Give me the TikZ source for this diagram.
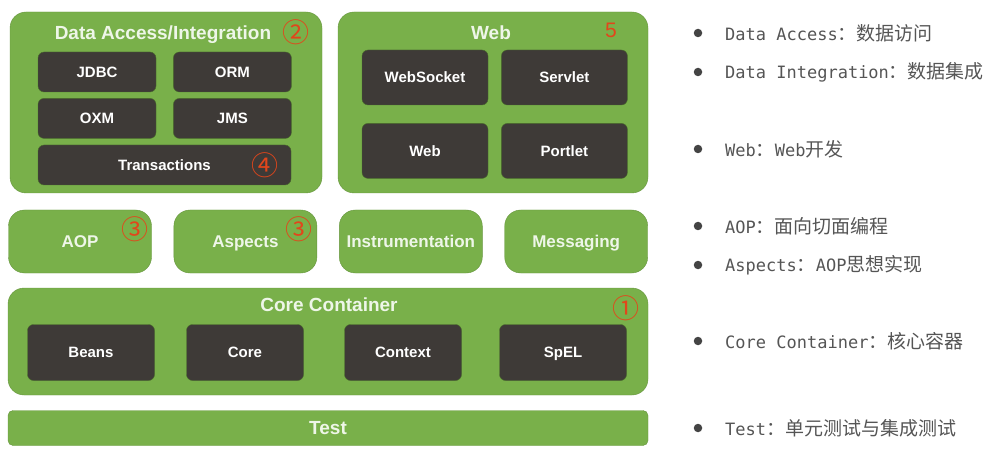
\documentclass[tikz,border=0pt]{standalone}
\usepackage{fontspec}
\setmainfont{Liberation Sans}
\newfontfamily\cjk{Noto Sans CJK SC}
\newfontfamily\mono{DejaVu Sans Mono}
\usetikzlibrary{positioning,shapes}
\definecolor{springgreen}{HTML}{79B04A}
\definecolor{moduledark}{HTML}{3E3A37}
\definecolor{titlewhite}{HTML}{EEF6E8}
\definecolor{markred}{HTML}{E2461B}
\definecolor{notegray}{HTML}{555555}
\tikzstyle{group} = [rectangle, fill=springgreen, draw=springgreen!85!black,
    rounded corners=16pt, inner sep=0pt]
\tikzstyle{module} = [rectangle, fill=moduledark, draw=springgreen!60!black,
    rounded corners=6pt, text=white, inner sep=0pt,
    text height=10.7pt, text depth=0pt,
    font=\bfseries\fontsize{15}{18}\selectfont]
\tikzset{
  grouptitle/.style={text=titlewhite, inner sep=0pt,
    text height=13.6pt, text depth=0pt,
    font=\bfseries\fontsize{19}{22}\selectfont},
  layer/.style={group, text=titlewhite, minimum height=63pt, minimum width=143pt,
    text height=12.2pt, text depth=0pt,
    font=\bfseries\fontsize{17}{20}\selectfont},
  redmark/.style={text=markred, inner sep=0pt, font=\cjk\fontsize{27}{30}\selectfont},
  bullet/.style={circle, fill=notegray!80!black, inner sep=0pt, minimum size=8.5pt},
  note/.style={anchor=west, text=notegray, inner sep=0pt,
    font=\mono\fontsize{17}{20}\selectfont},
}
\newcommand{\zh}[1]{{\cjk\fontsize{19}{22}\selectfont #1}}
\begin{document}
\begin{tikzpicture}[x=1pt, y=-1pt]
    \useasboundingbox (0,0) rectangle (985,449);
    % Place groups
    \node [group, minimum width=312pt, minimum height=181pt] (dataAccess) at (166,102.5) {};
    \node [group, minimum width=310pt, minimum height=181pt] (web) at (493,102.5) {};
    \node [group, minimum width=640pt, minimum height=107pt] (coreContainer) at (328,341.5) {};
    \node [group, rounded corners=5pt, minimum width=640pt, minimum height=35pt,
        text=titlewhite, text height=13.6pt, text depth=0pt,
        font=\bfseries\fontsize{19}{22}\selectfont] (test) at (328,428) {Test};
    % Titles
    \node [grouptitle] (dataAccessTitle) at (163,33) {Data Access/Integration};
    \node [grouptitle] (webTitle) at (491,33) {Web};
    \node [grouptitle] (coreTitle) at (329,305) {Core Container};
    % Data access modules
    \node [module, minimum width=118pt, minimum height=40pt] (jdbc) at (97,72) {JDBC};
    \node [module, minimum width=118pt, minimum height=40pt, right=17pt of jdbc] (orm) {ORM};
    \node [module, minimum width=118pt, minimum height=40pt, below=6pt of jdbc] (oxm) {OXM};
    \node [module, minimum width=118pt, minimum height=40pt, right=17pt of oxm] (jms) {JMS};
    \node [module, minimum width=253pt, minimum height=40pt] (transactions) at (164.5,165) {Transactions};
    % Web modules
    \node [module, minimum width=126pt, minimum height=55pt] (webSocket) at (425,77.5) {WebSocket};
    \node [module, minimum width=126pt, minimum height=55pt, right=13pt of webSocket] (servlet) {Servlet};
    \node [module, minimum width=126pt, minimum height=55pt, below=18pt of webSocket] (webModule) {Web};
    \node [module, minimum width=126pt, minimum height=55pt, right=13pt of webModule] (portlet) {Portlet};
    % Middle layer
    \node [layer] (aop) at (80,241.5) {AOP};
    \node [layer, right=22pt of aop] (aspects) {Aspects};
    \node [layer, right=22pt of aspects] (instrumentation) {Instrumentation};
    \node [layer, right=22pt of instrumentation] (messaging) {Messaging};
    % Core modules
    \node [module, minimum width=127pt, minimum height=56pt] (beans) at (91,352.5) {Beans};
    \node [module, minimum width=117pt, minimum height=56pt] (core) at (245,352.5) {Core};
    \node [module, minimum width=117pt, minimum height=56pt] (context) at (403,352.5) {Context};
    \node [module, minimum width=127pt, minimum height=56pt] (spel) at (563,352.5) {SpEL};
    % Red marks
    \node [redmark] (markTwo) at (296,32) {②};
    \node [redmark] (markFour) at (265,165) {④};
    \node [redmark, font=\fontsize{21}{24}\selectfont] (markFive) at (611,30) {5};
    \node [redmark] (markThreeA) at (135,229) {③};
    \node [redmark] (markThreeB) at (299,229) {③};
    \node [redmark] (markOne) at (626,308) {①};
    % Notes
    \node [bullet] (bulletDA) at (698,33) {};
    \node [note] (noteDA) at (725,33) {Data Access\zh{：数据访问}};
    \node [bullet] (bulletDI) at (698,72) {};
    \node [note] (noteDI) at (725,72) {Data Integration\zh{：数据集成}};
    \node [bullet] (bulletWeb) at (698,149) {};
    \node [note] (noteWeb) at (725,149) {Web\zh{：}Web\zh{开发}};
    \node [bullet] (bulletAOP) at (698,226) {};
    \node [note] (noteAOP) at (725,226) {AOP\zh{：面向切面编程}};
    \node [bullet] (bulletAspects) at (698,265) {};
    \node [note] (noteAspects) at (725,265) {Aspects\zh{：}AOP\zh{思想实现}};
    \node [bullet] (bulletCore) at (698,341) {};
    \node [note] (noteCore) at (725,341) {Core Container\zh{：核心容器}};
    \node [bullet] (bulletTest) at (698,428) {};
    \node [note] (noteTest) at (725,428) {Test\zh{：单元测试与集成测试}};
\end{tikzpicture}
\end{document}
